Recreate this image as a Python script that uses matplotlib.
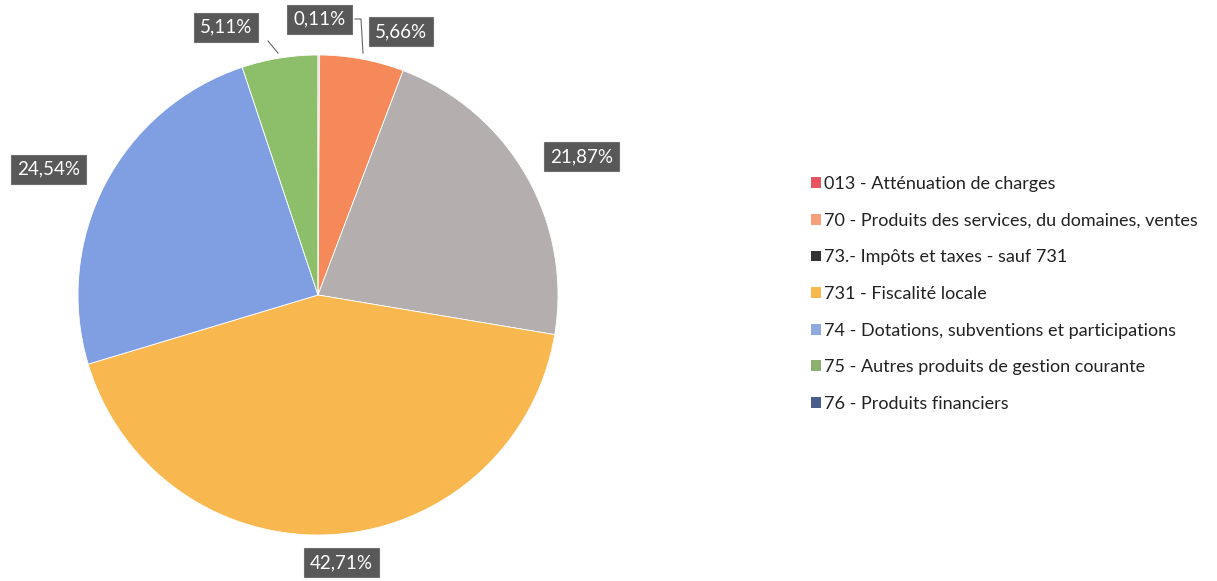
import matplotlib
matplotlib.use("Agg")
import matplotlib.pyplot as plt
from matplotlib.patches import Patch
import numpy as np

categories = [
    "013 - Atténuation de charges",
    "70 - Produits des services, du domaines, ventes",
    "73.- Impôts et taxes - sauf 731",
    "731 - Fiscalité locale",
    "74 - Dotations, subventions et participations",
    "75 - Autres produits de gestion courante",
    "76 - Produits financiers",
]
values = [0.11, 5.66, 21.87, 42.71, 24.54, 5.11, 0.0]
value_labels = ["0,11%", "5,66%", "21,87%", "42,71%", "24,54%", "5,11%", ""]

slice_colors = ["#E8545E", "#F5895A", "#B4AEAE", "#F8B84F", "#7F9FE2", "#8DBF6B", "#4B5C8F"]
legend_colors = ["#E8545E", "#F5A07C", "#333333", "#F8B84F", "#8FA9E0", "#8DB070", "#4B5C8F"]

W, H = 1217, 581
fig = plt.figure(figsize=(W / 100, H / 100), dpi=100)
fig.patch.set_facecolor("white")

cx, cy, r = 318, 295, 240
ax = fig.add_axes([(cx - r) / W, (H - cy - r) / H, 2 * r / W, 2 * r / H])
ax.set_xlim(-1, 1)
ax.set_ylim(-1, 1)
ax.set_aspect("equal")
ax.axis("off")

wedges, _ = ax.pie(values, colors=slice_colors, startangle=90, counterclock=False,
                   radius=1.0, center=(0, 0), frame=False,
                   wedgeprops=dict(edgecolor="white", linewidth=0.6))
ax.set_xlim(-1, 1)
ax.set_ylim(-1, 1)

# label layout: (angle in degrees, radius) for each labelled slice, relative to pie center
label_layout = {
    0: (89.7, 1.15),
    1: (72.5, 1.15),
    2: (27.7, 1.24),
    3: (-85.0, 1.12),
    4: (155.0, 1.24),
    5: (109.0, 1.18),
}
for i, (ang, rad) in label_layout.items():
    x = rad * np.cos(np.radians(ang))
    y = rad * np.sin(np.radians(ang))
    ax.text(x, y, value_labels[i], ha="center", va="center", color="white",
            fontsize=13.5, family=["Lato", "DejaVu Sans"], clip_on=False,
            bbox=dict(boxstyle="square,pad=0.32", facecolor="#4a4a4a", edgecolor="#6a6a6a",
                      linewidth=0.8, alpha=0.92))

# leader lines (pixel layout converted to pie coordinates)
def p(px, py):
    return ((px - cx) / r, (cy - py) / r)

for pts in [[(268, 41), (278, 53)], [(355, 19), (361, 19), (363, 53)]]:
    xs, ys = zip(*[p(a, b) for a, b in pts])
    ax.plot(xs, ys, color="#666666", linewidth=0.8, clip_on=False)

handles = [Patch(facecolor=c, edgecolor="none") for c in legend_colors]
fig.legend(handles, categories, loc="upper left", bbox_to_anchor=(795 / W, 1 - 160 / H),
           frameon=False, prop={"family": ["Lato", "DejaVu Sans"], "size": 13.0},
           handlelength=0.55, handleheight=0.55, handletextpad=0.15, labelspacing=1.14,
           labelcolor="#222222")

fig.savefig("out.png", dpi=100, facecolor=fig.get_facecolor())
